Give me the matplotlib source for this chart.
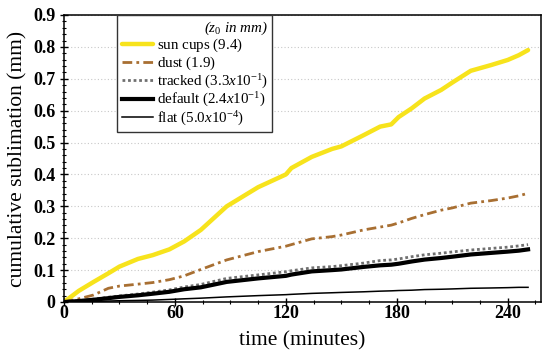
import matplotlib
matplotlib.use("Agg")
import matplotlib.pyplot as plt
from matplotlib.ticker import MultipleLocator, FixedLocator

plt.rcParams['font.family'] = ['Liberation Serif', 'DejaVu Serif']
plt.rcParams['mathtext.fontset'] = 'custom'
plt.rcParams['mathtext.rm'] = 'Liberation Serif'
plt.rcParams['mathtext.it'] = 'Liberation Serif:italic'
plt.rcParams['mathtext.bf'] = 'Liberation Serif:bold'

# ---- data ----
time_min = [0, 8, 16, 24, 30, 40, 48, 57, 65, 74, 88, 105, 120, 123, 134, 145,
            150, 162, 171, 177, 181, 188, 195, 204, 210, 220, 231, 240, 246, 251]
sun_cups = [0, 0.035, 0.063, 0.09, 0.111, 0.135, 0.147, 0.165, 0.19, 0.226, 0.30,
            0.36, 0.40, 0.42, 0.455, 0.48, 0.488, 0.523, 0.55, 0.557, 0.58, 0.607,
            0.638, 0.665, 0.688, 0.725, 0.743, 0.759, 0.774, 0.79]
dust = [0, 0.01, 0.022, 0.043, 0.05, 0.056, 0.061, 0.07, 0.082, 0.102, 0.132,
        0.158, 0.175, 0.18, 0.198, 0.205, 0.21, 0.226, 0.235, 0.241, 0.248, 0.262,
        0.274, 0.288, 0.295, 0.31, 0.318, 0.326, 0.333, 0.341]
tracked = [0, 0.004, 0.009, 0.015, 0.019, 0.025, 0.031, 0.038, 0.047, 0.055, 0.074,
           0.085, 0.095, 0.098, 0.107, 0.111, 0.114, 0.122, 0.13, 0.132, 0.135, 0.142,
           0.148, 0.153, 0.157, 0.163, 0.168, 0.172, 0.176, 0.18]
default = [0, 0.003, 0.007, 0.012, 0.016, 0.021, 0.026, 0.032, 0.04, 0.046, 0.063,
           0.074, 0.082, 0.086, 0.096, 0.1, 0.102, 0.11, 0.115, 0.117, 0.12, 0.127,
           0.133, 0.138, 0.142, 0.149, 0.154, 0.158, 0.161, 0.165]
flat = [0, 0.001, 0.002, 0.003, 0.004, 0.005, 0.006, 0.008, 0.01, 0.012, 0.016,
        0.02, 0.023, 0.024, 0.027, 0.029, 0.03, 0.032, 0.034, 0.035, 0.036, 0.037,
        0.039, 0.04, 0.041, 0.043, 0.044, 0.045, 0.046, 0.046]

labels = [r"sun cups ($\mathit{9.4}$)",
          r"dust ($\mathit{1.9}$)",
          r"tracked ($\mathit{3.3x10^{-1}}$)",
          r"default ($\mathit{2.4x10^{-1}}$)",
          r"flat ($\mathit{5.0x10^{-4}}$)"]
x_ticks = [0, 60, 120, 180, 240]
y_ticks = [0, 0.1, 0.2, 0.3, 0.4, 0.5, 0.6, 0.7, 0.8, 0.9]
y_ticklabels = ["0", "0.1", "0.2", "0.3", "0.4", "0.5", "0.6", "0.7", "0.8", "0.9"]

fig = plt.figure(figsize=(5.5, 3.58), dpi=100)
ax = fig.add_axes([64/550, 1-302/358, (541-64)/550, (302-15)/358])

ax.plot(time_min, sun_cups, color='#F7E31C', lw=3.2, label=labels[0], solid_capstyle='round')
ax.plot(time_min, dust, color='#A86F32', lw=2.0, linestyle=(0, (3.5, 1.5, 1, 1.5)), label=labels[1])
ax.plot(time_min, tracked, color='#707070', lw=2.0, linestyle=(0, (1, 1)), label=labels[2])
ax.plot(time_min, default, color='black', lw=3.0, label=labels[3])
ax.plot(time_min, flat, color='black', lw=1.1, label=labels[4])

ax.set_xlim(0, 258)
ax.set_ylim(0, 0.9)
ax.xaxis.set_major_locator(FixedLocator(x_ticks))
ax.xaxis.set_minor_locator(MultipleLocator(15))
ax.yaxis.set_major_locator(FixedLocator(y_ticks))
ax.set_yticklabels(y_ticklabels)
ax.yaxis.set_minor_locator(MultipleLocator(0.02))

ax.yaxis.grid(True, which='major', linestyle=(0, (1, 2)), color='#c8c8c8', lw=0.8)
ax.set_axisbelow(True)

ax.tick_params(which='major', direction='inout', length=6, width=1,
               labelsize=13, top=False, right=False)
ax.tick_params(which='minor', direction='inout', length=3.5, width=0.8,
               top=False, right=False)
ax.tick_params(axis='x', which='major', pad=-0.5)
ax.tick_params(axis='y', which='major', pad=3)
for lab in ax.get_xticklabels() + ax.get_yticklabels():
    lab.set_fontweight('bold')

for s in ax.spines.values():
    s.set_linewidth(1.1)
    s.set_color('black')

ax.set_xlabel("time (minutes)", fontsize=15.5, labelpad=6)
ax.set_ylabel("cumulative sublimation (mm)", fontsize=15.5, labelpad=4)

leg = ax.legend(loc='upper left', bbox_to_anchor=(53/477, 1.0), borderaxespad=0,
                fontsize=10.8, title=r"($z_0$ in mm)",
                title_fontproperties={'style': 'italic', 'size': 10.8},
                handlelength=2.1, handletextpad=0.25, labelspacing=0.02,
                borderpad=0.3, fancybox=False, framealpha=1, edgecolor='#333333',
                alignment='right')
leg.get_frame().set_linewidth(1.0)

fig.savefig("out.png", dpi=100)
